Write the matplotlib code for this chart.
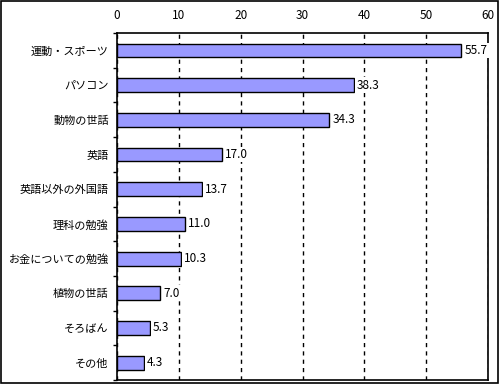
import matplotlib.pyplot as plt
import numpy as np
from matplotlib.patches import Rectangle

plt.rcParams['font.family'] = ['Noto Sans CJK JP', 'DejaVu Sans']

categories = ['運動・スポーツ', 'パソコン', '動物の世話', '英語', '英語以外の外国語',
              '理科の勉強', 'お金についての勉強', '植物の世話', 'そろばん', 'その他']
values = [55.7, 38.3, 34.3, 17.0, 13.7, 11.0, 10.3, 7.0, 5.3, 4.3]
x_ticks = [0, 10, 20, 30, 40, 50, 60]

fig = plt.figure(figsize=(5, 3.85), dpi=100)
ax = fig.add_axes([0.234, 0.013, 0.742, 0.901])

y = np.arange(len(categories))
ax.barh(y, values, height=0.4, color='#9999ff', edgecolor='black', linewidth=1, zorder=3)
for yi, v in zip(y, values):
    ax.text(v + 0.5, yi, f'{v:.1f}', va='center', ha='left', fontsize=8.5, zorder=4,
            bbox=dict(facecolor='white', edgecolor='none', pad=1))

ax.set_xlim(0, 60)
ax.set_ylim(len(categories) - 0.5, -0.5)
ax.set_xticks(x_ticks)
ax.xaxis.tick_top()
ax.tick_params(axis='x', length=0, labelsize=8.5, pad=8)
ax.set_yticks(y)
ax.set_yticklabels(categories, fontsize=8)
ax.tick_params(axis='y', which='major', length=0, pad=6)
ax.set_yticks(np.arange(len(categories) + 1) - 0.5, minor=True)
ax.tick_params(axis='y', which='minor', length=3, width=1)
ax.grid(axis='x', linestyle=(0, (3, 3)), color='black', linewidth=1, zorder=1)
for s in ax.spines.values():
    s.set_linewidth(1.2)

fig.patches.append(Rectangle((0.001, 0.004), 0.995, 0.994, transform=fig.transFigure,
                             fill=False, edgecolor='black', linewidth=1.2))

fig.savefig('out.png', dpi=100)
